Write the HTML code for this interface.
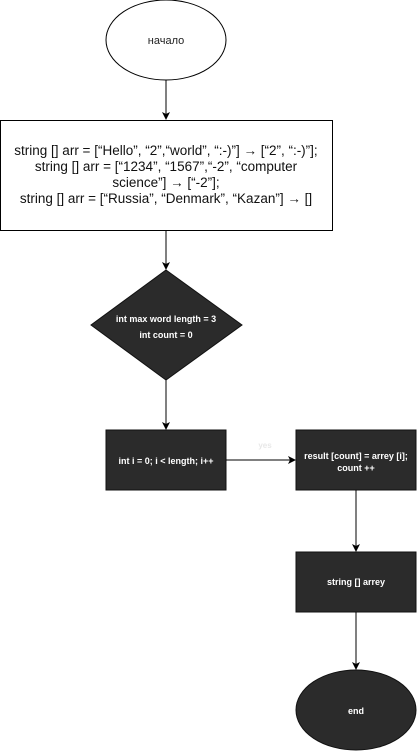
<!DOCTYPE html>
<html><head><meta charset="utf-8"><style>html,body{margin:0;padding:0;background:#fff;width:418px;height:751px;overflow:hidden}</style></head>
<body>
<svg width="418" height="751" viewBox="0 0 418 751" xmlns="http://www.w3.org/2000/svg" font-family="'Liberation Sans', sans-serif">
<defs><marker id="a" markerWidth="8" markerHeight="8" refX="7" refY="4" orient="auto" markerUnits="userSpaceOnUse"><path d="M0,0 L8,4 L0,8 L2,4 Z" fill="#000"/></marker></defs>
<ellipse cx="166" cy="40" rx="60" ry="40" fill="#fff" stroke="#000"/>
<text x="166" y="44" font-size="11" text-anchor="middle" fill="#222">начало</text>
<line x1="166" y1="80" x2="166" y2="119" stroke="#000" marker-end="url(#a)"/>
<rect x="0.5" y="120.5" width="332" height="110" fill="#fff" stroke="#000"/>
<g font-size="13.5" text-anchor="middle" fill="#111">
<text x="166" y="155">string [] arr = [“Hello”, “2”,“world”, “:-)”] → [“2”, “:-)”];</text>
<text x="166" y="171">string [] arr = [“1234”, “1567”,“-2”, “computer</text>
<text x="166" y="187">science”] → [“-2”];</text>
<text x="166" y="203">string [] arr = [“Russia”, “Denmark”, “Kazan”] → []</text>
</g>
<line x1="166" y1="231" x2="166" y2="269" stroke="#000" marker-end="url(#a)"/>
<polygon points="166,270 242,325 166,380 91,325" fill="#2b2b2b" stroke="#111"/>
<g font-size="9" font-weight="bold" text-anchor="middle" fill="#fff">
<text x="166" y="322">int max word length = 3</text>
<text x="166" y="338">int count = 0</text>
</g>
<line x1="166" y1="380" x2="166" y2="429" stroke="#000" marker-end="url(#a)"/>
<rect x="106" y="430" width="120" height="60" fill="#2b2b2b" stroke="#111"/>
<text x="166" y="464" font-size="9" font-weight="bold" text-anchor="middle" fill="#fff">int i = 0; i &lt; length; i++</text>
<line x1="226" y1="460" x2="295" y2="460" stroke="#000" marker-end="url(#a)"/>
<text x="265" y="448" font-size="8" font-weight="bold" text-anchor="middle" fill="#e8e8e8">yes</text>
<rect x="296" y="430" width="120" height="60" fill="#2b2b2b" stroke="#111"/>
<g font-size="9" font-weight="bold" text-anchor="middle" fill="#fff">
<text x="356" y="459">result [count] = arrey [i];</text>
<text x="356" y="471">count ++</text>
</g>
<line x1="356" y1="490" x2="356" y2="551" stroke="#000" marker-end="url(#a)"/>
<rect x="296" y="552" width="120" height="60" fill="#2b2b2b" stroke="#111"/>
<text x="356" y="585" font-size="9" font-weight="bold" text-anchor="middle" fill="#fff">string  [] arrey</text>
<line x1="356" y1="612" x2="356" y2="669" stroke="#000" marker-end="url(#a)"/>
<ellipse cx="356" cy="710" rx="60" ry="40" fill="#2b2b2b" stroke="#111"/>
<text x="356" y="714" font-size="9" font-weight="bold" text-anchor="middle" fill="#fff">end</text>
</svg>
</body></html>
